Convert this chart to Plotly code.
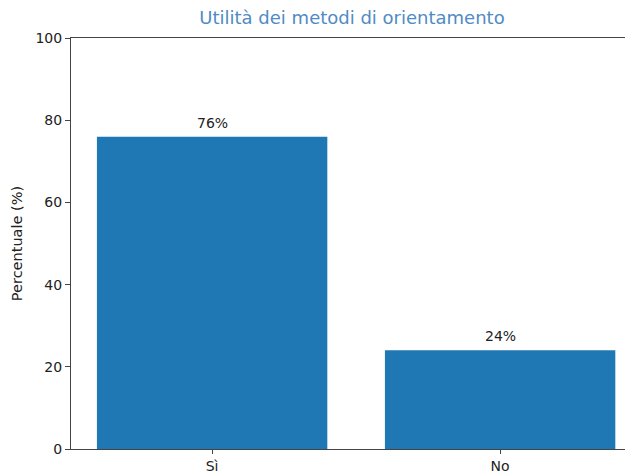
import plotly.graph_objects as go

categories = ["Sì", "No"]
values = [76, 24]
labels = ["76%", "24%"]
y_ticks = [0, 20, 40, 60, 80, 100]

BAR = "#1f77b4"
FONT = "DejaVu Sans"

# page body has an 8px offset; figure sized to fill the remaining window
W, H = 625, 466

fig = go.Figure()
fig.add_trace(go.Bar(
    x=[0, 1], y=values, width=0.8,
    marker=dict(color=BAR, line=dict(width=0)),
    hoverinfo="skip",
))

for i, (v, t) in enumerate(zip(values, labels)):
    fig.add_annotation(x=i, y=v, text=t, showarrow=False, yanchor="bottom",
                       yshift=4, font=dict(family=FONT, size=14, color="#222222"))

fig.update_layout(
    width=W, height=H,
    margin=dict(l=63, r=0, t=30, b=25, autoexpand=False),
    paper_bgcolor="white", plot_bgcolor="white",
    showlegend=False,
    title=dict(text="Utilità dei metodi di orientamento", x=0.5, xanchor="center",
               xref="paper", y=1 - 10 / H, yanchor="middle",
               font=dict(family=FONT, size=18, color="#4f8bc4")),
    font=dict(family=FONT, size=14, color="#222222"),
)
fig.update_xaxes(
    range=[-0.49, -0.49 + 562 / 288],
    tickvals=[0, 1], ticktext=categories,
    ticks="outside", ticklen=4, tickcolor="#444444",
    showline=True, linecolor="#444444", linewidth=1, mirror=True,
    showgrid=False, zeroline=False, automargin=False,
    tickfont=dict(family=FONT, size=14, color="#222222"),
)
fig.update_yaxes(
    range=[0, 100], tickvals=y_ticks,
    ticks="outside", ticklen=5, tickcolor="#444444",
    showline=True, linecolor="#444444", linewidth=1,
    showgrid=False, zeroline=False, automargin=False,
    title=dict(text="Percentuale (%)", standoff=9,
               font=dict(family=FONT, size=14.5, color="#222222")),
    tickfont=dict(family=FONT, size=14, color="#222222"),
)

fig.write_html("out.html")
